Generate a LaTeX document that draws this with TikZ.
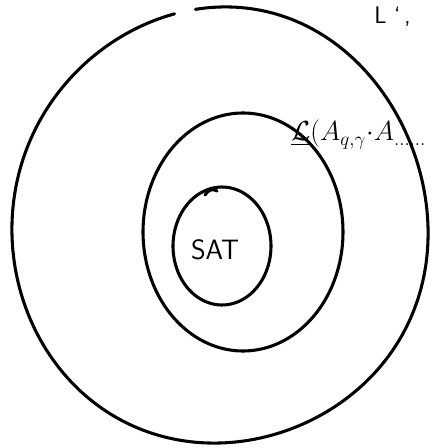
\documentclass[tikz,border=0pt]{standalone}
\usepackage{amsmath}
\tikzset{
  ring/.style={line width=2.3pt, line cap=round, line join=round, black},
  lbl/.style={inner sep=0pt, font=\sffamily},
}
\begin{document}
\begin{tikzpicture}[x=0.75pt,y=-0.75pt]
\useasboundingbox (0,0) rectangle (432,448);
% outer ring with gap at top
\draw[ring] plot[domain=-97:257, samples=140, smooth]
  ({220+208*cos(\x)+3*sin(2*\x)}, {225+218*sin(\x)+2*cos(3*\x)});
% middle ring
\draw[ring] plot[domain=0:360, samples=120, smooth cycle]
  ({243+100*cos(\x)}, {232+119*sin(\x)});
% inner ring
\draw[ring] plot[domain=0:360, samples=100, smooth cycle]
  ({222+49*cos(\x)}, {246+59*sin(\x)});
\draw[ring] (205,195) .. controls (208,190) and (213,188) .. (217,191);
% labels
\node[lbl, font=\sffamily\fontsize{21}{24}\selectfont] (sat) at (215,250) {SAT};
\node[lbl, anchor=base west, font=\fontsize{21}{24}\selectfont] (lang) at (291,141)
  {$\underline{\mathcal{L}}(A_{q,\gamma}{\cdot}A_{\ldots\ldots}$};
\node[lbl, anchor=base west, font=\sffamily\fontsize{18}{22}\selectfont] (top) at (374,24) {L `\,,};
\end{tikzpicture}
\end{document}
